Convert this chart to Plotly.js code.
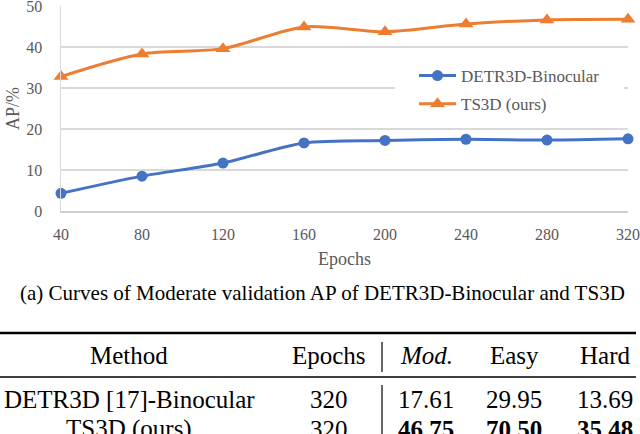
<!DOCTYPE html>
<html>
<head>
<meta charset="utf-8">
<script src="https://cdn.plot.ly/plotly-3.0.1.min.js"></script>
<style>html,body{margin:0;padding:0;background:#fff;}#chart{width:640px;height:434px;}</style>
</head>
<body>
<div id="chart"></div>
<script>
// ---- data ----
const epochs = [40, 80, 120, 160, 200, 240, 280, 320];
const detrBinocular = [4.3, 8.5, 11.7, 16.6, 17.2, 17.5, 17.3, 17.61];
const ts3dOurs = [32.8, 38.3, 39.6, 44.9, 43.7, 45.6, 46.6, 46.75];
const seriesNames = ['DETR3D-Binocular', 'TS3D (ours)'];
const yTicks = [0, 10, 20, 30, 40, 50];
const captionText = '(a) Curves of Moderate validation AP of DETR3D-Binocular and TS3D';
const tableHeader = ['Method', 'Epochs', '<i>Mod.</i>', 'Easy', 'Hard'];
const tableRow1 = ['DETR3D [17]-Binocular', '320', '17.61', '29.95', '13.69'];
const tableRow2 = ['TS3D (ours)', '320', '<b>46.75</b>', '<b>70.50</b>', '<b>35.48</b>'];

// ---- geometry helpers (pixel -> paper) ----
const W = 640, H = 434;
const M = {l: 61, r: 12, t: 6, b: 223};
const pw = W - M.l - M.r, ph = H - M.t - M.b;
const px = x => (x - M.l) / pw;
const py = y => (H - M.b - y) / ph;

const serif = 'Liberation Serif';
const gray = '#595959';

const traces = [
  {x: epochs, y: detrBinocular, name: seriesNames[0], type: 'scatter', mode: 'lines+markers',
   line: {color: '#4472C4', width: 3, shape: 'spline', smoothing: 0.8},
   marker: {symbol: 'circle', size: 11, color: '#4472C4'}, cliponaxis: false, legendgroup: 'a'},
  {x: epochs, y: ts3dOurs, name: seriesNames[1], type: 'scatter', mode: 'lines+markers',
   line: {color: '#ED7D31', width: 3, shape: 'spline', smoothing: 0.8},
   marker: {symbol: 'triangle-up', size: 13, color: '#ED7D31'}, cliponaxis: false, legendgroup: 'b'}
];

const ann = [];
ann.push({text: captionText, xref: 'paper', yref: 'paper', x: px(322), y: py(293),
  showarrow: false, xanchor: 'center', yanchor: 'middle', font: {family: serif, size: 21, color: '#000'}});

const colX = [129, 329, 426, 514, 605];
const rowY = [355, 399, 429];
[tableHeader, tableRow1, tableRow2].forEach((row, r) => {
  row.forEach((t, c) => {
    ann.push({text: t, xref: 'paper', yref: 'paper', x: px(colX[c]), y: py(rowY[r]),
      showarrow: false, xanchor: 'center', yanchor: 'middle',
      font: {family: serif, size: 25, color: '#000'}});
  });
});

const shapes = [
  {type: 'rect', xref: 'x', yref: 'y', x0: 205, x1: 318, y0: 21.3, y1: 38.8,
   fillcolor: '#fff', line: {width: 0}, layer: 'between'},
  {type: 'line', xref: 'paper', yref: 'paper', x0: px(0), x1: px(636), y0: py(333), y1: py(333),
   line: {color: '#000', width: 2.5}},
  {type: 'line', xref: 'paper', yref: 'paper', x0: px(0), x1: px(636), y0: py(377), y1: py(377),
   line: {color: '#000', width: 1.5}},
  {type: 'line', xref: 'paper', yref: 'paper', x0: px(382), x1: px(382), y0: py(342), y1: py(372),
   line: {color: '#000', width: 1.2}},
  {type: 'line', xref: 'paper', yref: 'paper', x0: px(382), x1: px(382), y0: py(385), y1: py(440),
   line: {color: '#000', width: 1.2}}
];

const layout = {
  width: W, height: H,
  margin: M,
  paper_bgcolor: '#fff', plot_bgcolor: '#fff',
  font: {family: serif},
  showlegend: true,
  legend: {x: px(414), y: py(58), xanchor: 'left', yanchor: 'top', bgcolor: 'rgba(0,0,0,0)',
    font: {family: serif, size: 17, color: gray}, traceorder: 'grouped', tracegroupgap: 3,
    itemwidth: 37},
  xaxis: {range: [40, 320], tickvals: epochs, ticktext: epochs.map(String),
    showgrid: false, zeroline: false, showline: true, linecolor: '#d0d0d0', linewidth: 1.5,
    ticks: '', ticklabelstandoff: 8, tickfont: {family: serif, size: 16, color: gray},
    title: {text: 'Epochs', font: {family: serif, size: 18, color: gray}, standoff: 10}},
  yaxis: {range: [0, 50], tickvals: yTicks, showgrid: true, gridcolor: '#d9d9d9', gridwidth: 1.5,
    zeroline: false, showline: true, linecolor: '#d9d9d9', linewidth: 1.5,
    ticks: '', ticklabelstandoff: 14, ticklabeloverflow: 'allow',
    tickfont: {family: serif, size: 16, color: gray},
    title: {text: 'AP/%', font: {family: serif, size: 18, color: gray}, standoff: 2}},
  annotations: ann,
  shapes: shapes
};

Plotly.newPlot('chart', traces, layout, {displayModeBar: false, staticPlot: true});
</script>
</body>
</html>
